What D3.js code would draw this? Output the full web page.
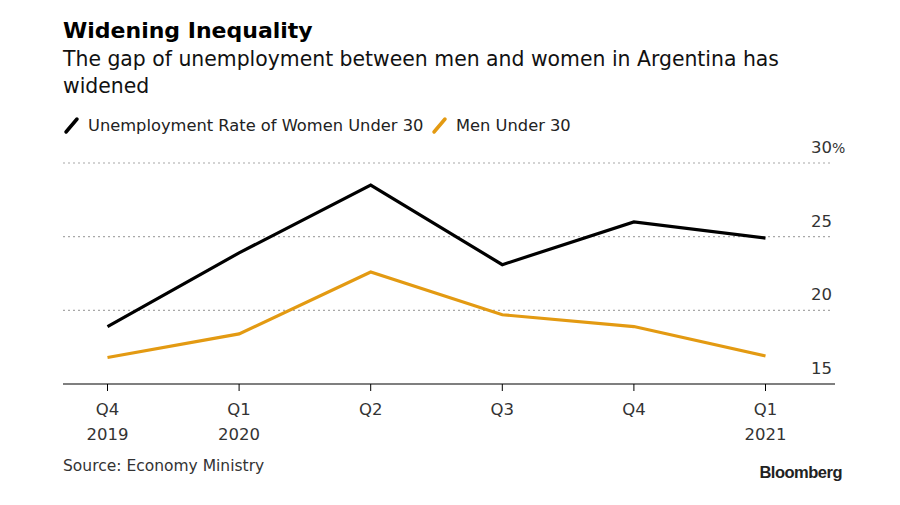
<!DOCTYPE html>
<html>
<head>
<meta charset="utf-8">
<script src="https://cdn.jsdelivr.net/npm/d3@7"></script>
<style>
  html, body { margin: 0; padding: 0; background: #fff; }
  svg { display: block; }
  text { font-family: "DejaVu Sans", Verdana, sans-serif; fill: #1a1a1a; }
</style>
</head>
<body>
<svg id="chart" width="900" height="505"></svg>
<script>
const quarters = ["Q4", "Q1", "Q2", "Q3", "Q4", "Q1"];
const years = ["2019", "2020", "", "", "", "2021"];
const women = [18.9, 23.9, 28.5, 23.1, 26.0, 24.9];
const men = [16.8, 18.4, 22.6, 19.7, 18.9, 16.9];
const yTicks = [15, 20, 25, 30];
const seriesNames = ["Unemployment Rate of Women Under 30", "Men Under 30"];
const seriesColors = ["#000000", "#e39a12"];

const svg = d3.select("#chart");

// Titles
svg.append("text").attr("x", 63).attr("y", 38)
  .style("font-size", "22px").style("font-weight", "bold").style("fill", "#000")
  .text("Widening Inequality");
svg.append("text").attr("x", 63).attr("y", 66)
  .style("font-size", "20.4px").style("fill", "#111")
  .text("The gap of unemployment between men and women in Argentina has");
svg.append("text").attr("x", 63).attr("y", 93)
  .style("font-size", "20.4px").style("fill", "#111")
  .text("widened");

// Legend
const legend = svg.append("g");
const legX = [66, 434];
seriesNames.forEach((name, i) => {
  legend.append("line")
    .attr("x1", legX[i]).attr("y1", 132).attr("x2", legX[i] + 11).attr("y2", 119)
    .attr("stroke", seriesColors[i]).attr("stroke-width", 3.5).attr("stroke-linecap", "round");
  legend.append("text").attr("x", legX[i] + 22).attr("y", 131)
    .style("font-size", "16.3px").style("fill", "#222")
    .text(name);
});

// Scales
const x = d3.scalePoint().domain(d3.range(quarters.length)).range([107.5, 765.5]);
const y = d3.scaleLinear().domain([15, 30]).range([384, 163]);

// Gridlines
svg.append("g").selectAll("line").data(yTicks.filter(t => t > 15)).join("line")
  .attr("x1", 63).attr("x2", 833)
  .attr("y1", d => y(d)).attr("y2", d => y(d))
  .attr("stroke", "#a8a8a8").attr("stroke-width", 1.2).attr("stroke-dasharray", "2,3");

// Y labels
const yl = svg.append("g");
yTicks.forEach(t => {
  yl.append("text").attr("x", 832).attr("y", y(t) - 10)
    .attr("text-anchor", "end")
    .style("font-size", "16.5px").style("fill", "#333")
    .text(t);
  if (t === 30) {
    yl.append("text").attr("x", 832).attr("y", y(t) - 10)
      .style("font-size", "14px").style("fill", "#333").text("%");
  }
});

// Lines
const line = d3.line().x((d, i) => x(i)).y(d => y(d));
[women, men].forEach((s, i) => {
  svg.append("path").datum(s)
    .attr("d", line)
    .attr("fill", "none")
    .attr("stroke", seriesColors[i])
    .attr("stroke-width", 3.2)
    .attr("stroke-linejoin", "miter");
});

// X axis
const xa = svg.append("g");
xa.append("line").attr("x1", 63).attr("x2", 835).attr("y1", 384).attr("y2", 384)
  .attr("stroke", "#000").attr("stroke-width", 1.2);
quarters.forEach((q, i) => {
  xa.append("line").attr("x1", x(i)).attr("x2", x(i)).attr("y1", 384).attr("y2", 391)
    .attr("stroke", "#000").attr("stroke-width", 1);
  xa.append("text").attr("x", x(i)).attr("y", 415).attr("text-anchor", "middle")
    .style("font-size", "16.5px").style("fill", "#333").text(q);
  if (years[i]) {
    xa.append("text").attr("x", x(i)).attr("y", 440).attr("text-anchor", "middle")
      .style("font-size", "16.5px").style("fill", "#333").text(years[i]);
  }
});

// Source
svg.append("text").attr("x", 63).attr("y", 471)
  .style("font-size", "15.5px").style("fill", "#333")
  .text("Source: Economy Ministry");
svg.append("text").attr("x", 842).attr("y", 478).attr("text-anchor", "end")
  .style("font-family", "'Liberation Sans', Arial, sans-serif")
  .style("font-size", "16.5px").style("font-weight", "bold").style("letter-spacing", "-0.5px")
  .style("fill", "#222")
  .text("Bloomberg");
</script>
</body>
</html>
